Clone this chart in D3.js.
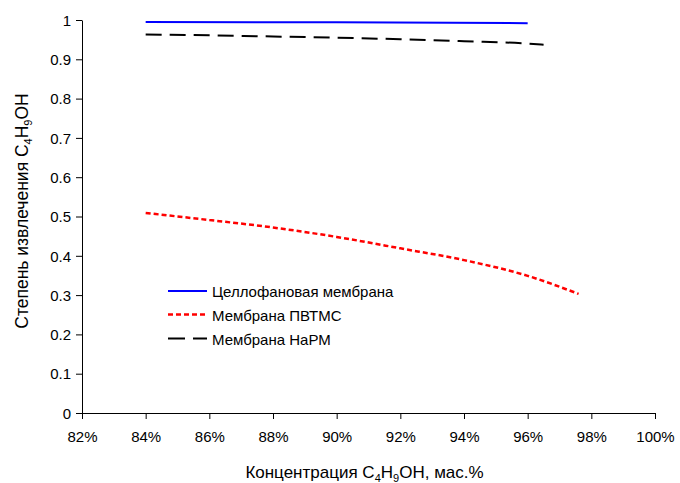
<!DOCTYPE html>
<html><head><meta charset="utf-8">
<script src="https://cdn.jsdelivr.net/npm/d3@7"></script>
<style>body{margin:0;background:#fff}svg{display:block}text{font-family:"Liberation Sans",Arial,sans-serif;fill:#000}</style>
</head><body><svg id="c" width="680" height="483"></svg>
<script>
const xTicks = [0.82,0.84,0.86,0.88,0.90,0.92,0.94,0.96,0.98,1.00];
const yTicks = [0,0.1,0.2,0.3,0.4,0.5,0.6,0.7,0.8,0.9,1];
const celloX = [0.84,0.90,0.96];
const celloY = [0.995,0.994,0.992];
const pvtmsX = [0.84,0.86,0.88,0.90,0.92,0.94,0.96,0.976];
const pvtmsY = [0.509,0.491,0.472,0.448,0.419,0.389,0.349,0.303];
const narmX = [0.84,0.86,0.88,0.90,0.92,0.94,0.96,0.965];
const narmY = [0.963,0.961,0.958,0.955,0.951,0.946,0.940,0.937];
const seriesNames = ["Целлофановая мембрана","Мембрана ПВТМС","Мембрана НаРМ"];

const svg = d3.select("#c");
const x = d3.scaleLinear().domain([0.82,1.00]).range([82,655]);
const y = d3.scaleLinear().domain([0,1]).range([413,20]);

const xa = svg.append("g").attr("transform","translate(0,413)")
  .call(d3.axisBottom(x).tickValues(xTicks).tickFormat(d=>Math.round(d*100)+"%").tickSize(6).tickSizeOuter(0));
const ya = svg.append("g").attr("transform","translate(82,0)")
  .call(d3.axisLeft(y).tickValues(yTicks).tickFormat(d=>d===0?"0":(d===1?"1":d3.format(".1f")(d))).tickSize(6).tickSizeOuter(0));
[xa,ya].forEach(a=>{a.selectAll("path,line").attr("stroke","#000").attr("stroke-width",1);
  a.selectAll("text").attr("font-size",15).style("font-family","Liberation Sans, Arial, sans-serif");});
xa.selectAll("text").attr("dy","1.33em");
ya.selectAll("text").attr("dy","0.35em").attr("x",-11);

const line = d3.line().x(d=>x(d[0])).y(d=>y(d[1])).curve(d3.curveMonotoneX);
const series = [
 {xs:celloX, ys:celloY, color:"#0000ff", w:2, dash:null, ldash:null},
 {xs:pvtmsX, ys:pvtmsY, color:"#ff0000", w:2.5, dash:"5,3", ldash:"5,3"},
 {xs:narmX, ys:narmY, color:"#000000", w:2, dash:"16,8", ldash:"17,8"}
];
series.forEach(s=>{
  const pts = s.xs.map((v,i)=>[v,s.ys[i]]);
  svg.append("path").attr("d",line(pts)).attr("fill","none").attr("stroke",s.color)
    .attr("stroke-width",s.w).attr("stroke-dasharray",s.dash);
});

// legend
const lg = svg.append("g");
const legY = [291,314.5,338.5];
series.forEach((s,i)=>{
  const yy = legY[i];
  lg.append("line").attr("x1",168).attr("x2",207).attr("y1",yy).attr("y2",yy)
    .attr("stroke",s.color).attr("stroke-width",s.w).attr("stroke-dasharray",s.ldash);
  lg.append("text").attr("x",212).attr("y",yy+6).attr("font-size",15).text(seriesNames[i]);
});

// axis titles
const xt = svg.append("text").attr("x",364.5).attr("y",478).attr("text-anchor","middle").attr("font-size",17);
xt.append("tspan").text("Концентрация C");
xt.append("tspan").attr("font-size",11).attr("dy",4).text("4");
xt.append("tspan").attr("dy",-4).text("H");
xt.append("tspan").attr("font-size",11).attr("dy",4).text("9");
xt.append("tspan").attr("dy",-4).text("OH, мас.%");

const yt = svg.append("text").attr("transform","translate(28,211) rotate(-90)").attr("text-anchor","middle").attr("font-size",17.5);
yt.append("tspan").text("Степень извлечения C");
yt.append("tspan").attr("font-size",11).attr("dy",4).text("4");
yt.append("tspan").attr("dy",-4).text("H");
yt.append("tspan").attr("font-size",11).attr("dy",4).text("9");
yt.append("tspan").attr("dy",-4).text("OH");
</script></body></html>
